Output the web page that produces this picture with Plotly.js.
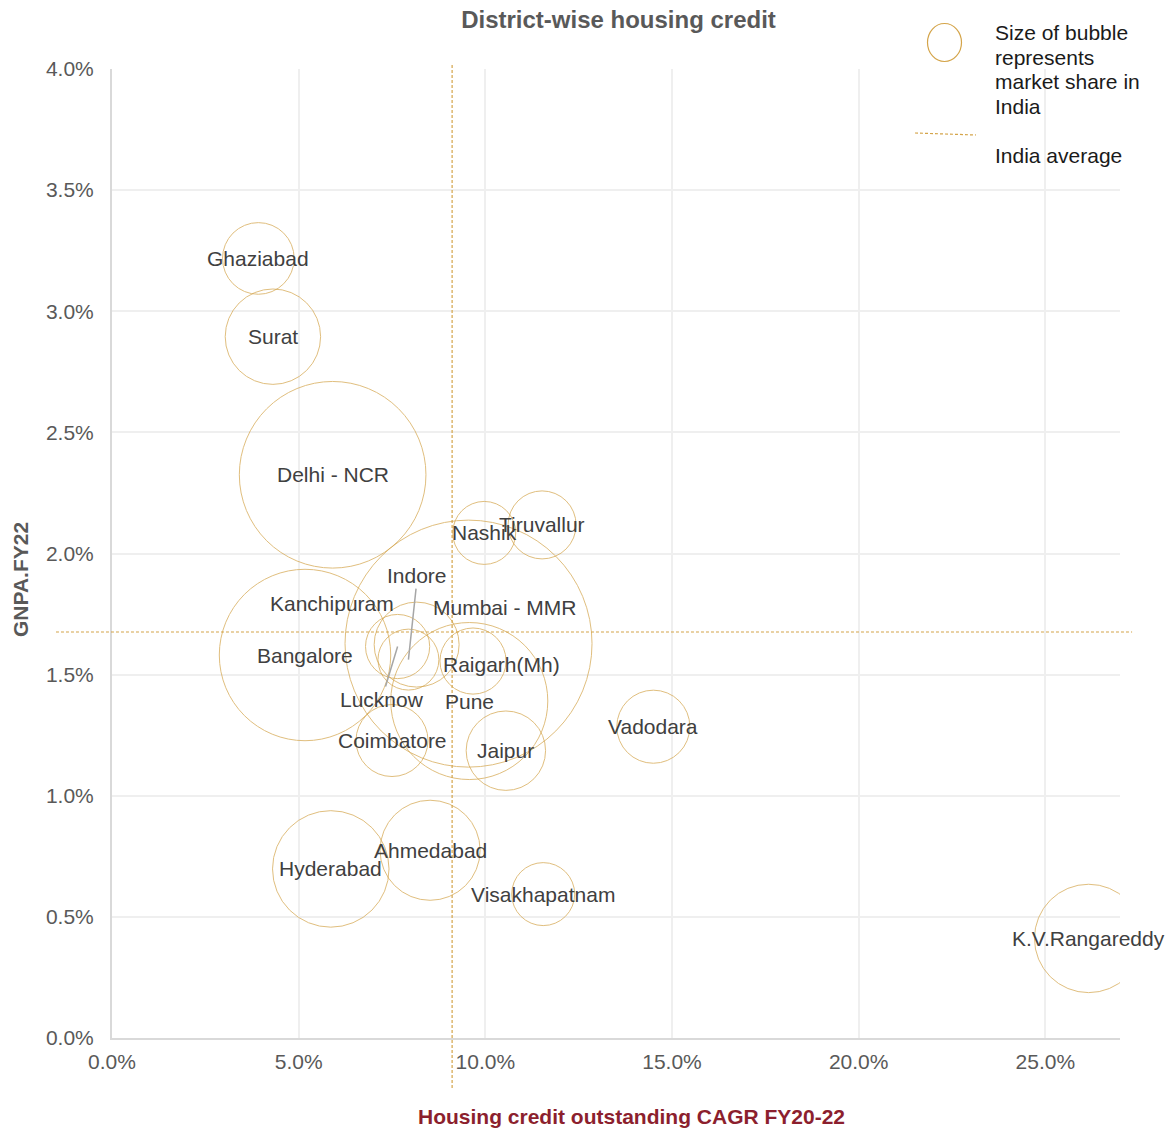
<!DOCTYPE html>
<html>
<head>
<meta charset="utf-8">
<script src="https://cdn.plot.ly/plotly-3.0.1.min.js"></script>
<style>html,body{margin:0;padding:0;background:#fff}#chart{width:1176px;height:1128px}</style>
</head>
<body>
<div id="chart"></div>
<script>
// ---- data ----
const districts = ["Ghaziabad","Surat","Delhi - NCR","Nashik","Tiruvallur","Mumbai - MMR","Kanchipuram","Indore","Lucknow","Bangalore","Raigarh(Mh)","Pune","Jaipur","Coimbatore","Vadodara","Hyderabad","Ahmedabad","Visakhapatnam","K.V.Rangareddy"];
const cagr = [0.0392,0.0431,0.0591,0.0997,0.1152,0.0955,0.0816,0.0794,0.0765,0.0517,0.0967,0.0957,0.1055,0.0750,0.1450,0.0586,0.0852,0.1155,0.2616];
const gnpa = [0.03218,0.02895,0.02325,0.02085,0.02118,0.01628,0.01624,0.01562,0.01616,0.01581,0.01556,0.01391,0.01186,0.01228,0.01285,0.00698,0.00775,0.00594,0.00411];
const marketShare = [1.01,1.79,6.85,0.78,0.91,12.0,1.42,0.73,0.81,5.78,0.86,4.85,1.24,1.02,1.05,2.67,1.97,0.78,2.31];
const indiaAvgCagr = 0.0911;
const indiaAvgGnpa = 0.01676;
const xTickVals = [0,0.05,0.10,0.15,0.20,0.25];
const yTickVals = [0,0.005,0.01,0.015,0.02,0.025,0.03,0.035,0.04];

// ---- label placement (pixels) ----
const labelShift = {"Mumbai - MMR":[36,-36],"Kanchipuram":[-85,-41],"Raigarh(Mh)":[28,3]};
const labelArrow = {"Indore":[9,-84],"Lucknow":[-16,53]};

const GOLD = '#D4A449';
const FONT = '"Liberation Sans", Arial, sans-serif';

const trace = {
  type:'scatter', mode:'markers',
  x:cagr, y:gnpa, text:districts,
  marker:{
    size:marketShare, sizemode:'area', sizeref: 4*12.0/(2*247*247),
    color:'rgba(0,0,0,0)', line:{color:GOLD, width:1}
  },
  hoverinfo:'text', showlegend:false, cliponaxis:true
};

const annotations = districts.map((d,i)=>{
  const a = {x:cagr[i], y:gnpa[i], xref:'x', yref:'y', text:d, font:{family:FONT,size:21,color:'#404040'}};
  if (labelArrow[d]) {
    a.showarrow = true; a.arrowhead = 0; a.arrowwidth = 1.5; a.arrowcolor = '#A6A6A6';
    a.ax = labelArrow[d][0]; a.ay = labelArrow[d][1]; a.standoff = 0;
  } else {
    a.showarrow = false;
    if (labelShift[d]) { a.xshift = labelShift[d][0]; a.yshift = -labelShift[d][1]; }
  }
  return a;
});

// legend texts
const legendLines = [["Size of bubble",32],["represents",57],["market share in",82],["India",106],["India average",155]];
legendLines.forEach(([t,py])=>{
  annotations.push({xref:'paper', yref:'paper', x:(993-112)/1008, y:(1038-py)/969, xanchor:'left', yanchor:'middle',
    text:t, showarrow:false, font:{family:FONT,size:21,color:'#1a1a1a'}});
});
// x axis title
annotations.push({xref:'paper', yref:'paper', x:(631.5-112)/1008, y:(1038-1116)/969, xanchor:'center', yanchor:'middle',
  text:'<b>Housing credit outstanding CAGR FY20-22</b>', showarrow:false, font:{family:FONT,size:21,color:'#8C1F2E'}});
// y axis title
annotations.push({xref:'paper', yref:'paper', x:(20-112)/1008, y:(1038-580)/969, xanchor:'center', yanchor:'middle', textangle:-90,
  text:'<b>GNPA.FY22</b>', showarrow:false, font:{family:FONT,size:21,color:'#595959'}});

const shapes = [
  {type:'line', xref:'x', yref:'paper', x0:indiaAvgCagr, x1:indiaAvgCagr, y0:-0.0516, y1:1.006,
   line:{color:GOLD, width:1.2, dash:'3px,2px'}},
  {type:'line', xref:'paper', yref:'y', x0:-0.0556, x1:1.012, y0:indiaAvgGnpa, y1:indiaAvgGnpa,
   line:{color:GOLD, width:1.2, dash:'3px,2px'}},
  // legend bubble
  {type:'circle', xref:'paper', yref:'paper', xsizemode:'pixel', ysizemode:'pixel',
   xanchor:(944.5-112)/1008, yanchor:(1038-42.5)/969, x0:-17, x1:17, y0:-19, y1:19,
   line:{color:GOLD, width:1.2}, fillcolor:'rgba(0,0,0,0)'},
  // legend dashed line
  {type:'line', xref:'paper', yref:'paper', x0:(915-112)/1008, x1:(976-112)/1008, y0:(1038-133)/969, y1:(1038-135)/969,
   line:{color:GOLD, width:1.2, dash:'3px,2px'}}
];

const layout = {
  width:1176, height:1128,
  margin:{l:112, r:56, t:69, b:90, pad:0},
  paper_bgcolor:'#ffffff', plot_bgcolor:'#ffffff',
  font:{family:FONT, color:'#595959'},
  title:{text:'<b>District-wise housing credit</b>', xref:'container', yref:'container', x:618.5/1176, y:1-20/1128,
    xanchor:'center', yanchor:'middle', font:{family:FONT,size:24,color:'#595959'}},
  xaxis:{range:[0,0.27], tickvals:xTickVals, tickformat:'.1%', showgrid:true, gridcolor:'#EFEFEF', gridwidth:2,
    zeroline:false, showline:true, linecolor:'#D9D9D9', linewidth:2, ticks:'', ticklabelstandoff:4,
    tickfont:{family:FONT,size:21,color:'#595959'}, fixedrange:true},
  yaxis:{range:[0,0.04], tickvals:yTickVals, tickformat:'.1%', showgrid:true, gridcolor:'#EFEFEF', gridwidth:2,
    zeroline:false, showline:true, linecolor:'#D9D9D9', linewidth:2, ticks:'', ticklabelstandoff:12,
    tickfont:{family:FONT,size:21,color:'#595959'}, fixedrange:true},
  shapes:shapes, annotations:annotations, showlegend:false, hovermode:'closest'
};

Plotly.newPlot('chart',[trace],layout,{displayModeBar:false, responsive:false});
</script>
</body>
</html>
